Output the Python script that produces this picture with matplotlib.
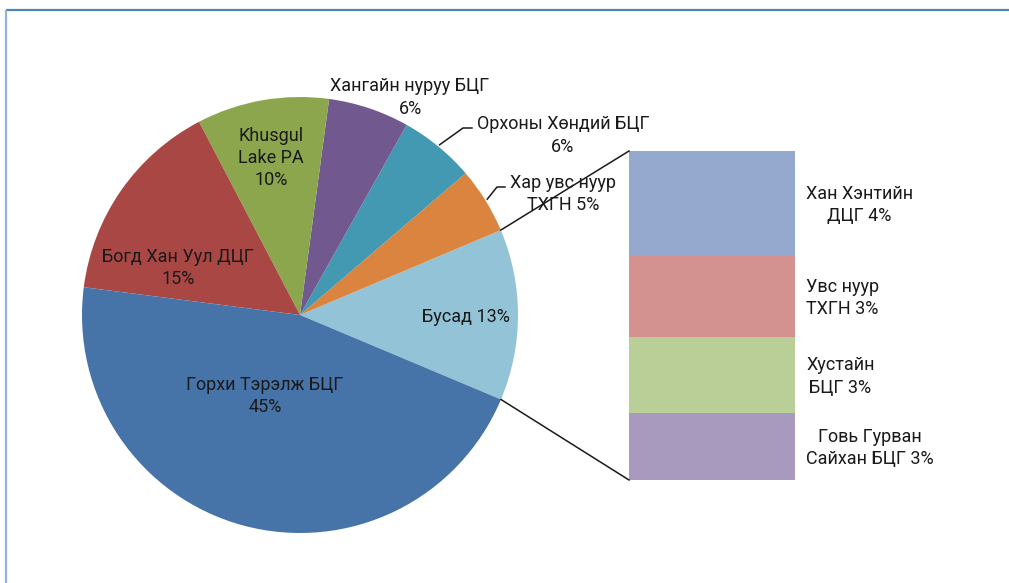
import numpy as np
import matplotlib.pyplot as plt

plt.rcParams['font.family'] = ['Roboto', 'DejaVu Sans']

# pie slices, counter-clockwise starting from the "other" slice
pie_labels = ['Бусад 13%', 'Хар увс нуур\nТХГН 5%', 'Орхоны Хөндий БЦГ\n6%',
              'Хангайн нуруу БЦГ\n6%', 'Khusgul\nLake PA\n10%',
              'Богд Хан Уул ДЦГ\n15%', 'Горхи Тэрэлж БЦГ\n45%']
pie_values = [12.7, 4.9, 5.6, 6.0, 9.8, 15.3, 45.7]
pie_colors = ['#93C3D6', '#DA843F', '#4299B1', '#71598F', '#8BA64D', '#A94744', '#4674A8']

# breakdown of "Бусад", top to bottom
bar_labels = ['Хан Хэнтийн\nДЦГ 4%', 'Увс нуур\nТХГН 3%', 'Хустайн\nБЦГ 3%', 'Говь Гурван\nСайхан БЦГ 3%']
bar_values = [4.05, 3.13, 2.93, 2.59]
bar_colors = ['#95A9CF', '#D39190', '#BACF97', '#A899BE']

# layout (pixels, y measured from top)
W, H = 1009, 583
cx, cy, radius = 300, 315, 218
start_angle = -22.8
bar_left, bar_width, bar_top, bar_total_h = 629, 166, 151, 329
label_pos = [(466, 317), (563, 194), (563, 135.5), (410, 97.5),
             (271, 158), (178, 268), (265, 396)]
leaders = {1: [(497, 187), (505, 187)], 2: [(463, 128), (472, 128)]}


def Y(y):
    return H - y


fig = plt.figure(figsize=(W / 100, H / 100), dpi=100)
ax = fig.add_axes([0, 0, 1, 1])

wedges, _ = ax.pie(pie_values, colors=pie_colors, startangle=start_angle,
                   counterclock=True, center=(cx, Y(cy)), radius=radius,
                   wedgeprops=dict(linewidth=0))

ax.set_xlim(0, W)
ax.set_ylim(0, H)
ax.set_aspect('equal')
ax.axis('off')

fs = 13
for i, (txt, (x, y)) in enumerate(zip(pie_labels, label_pos)):
    ax.text(x, Y(y), txt, ha='center', va='center', fontsize=fs,
            multialignment='center', linespacing=1.3, color='#1a1a1a')

# leader lines
fracs = np.cumsum([0] + pie_values) / sum(pie_values)
for i, pts in leaders.items():
    mid = np.deg2rad(start_angle + 360 * (fracs[i] + fracs[i + 1]) / 2)
    x0 = cx + radius * 1.01 * np.cos(mid)
    y0 = Y(cy) + radius * 1.01 * np.sin(mid)
    xs = [x0] + [p[0] for p in pts]
    ys = [y0] + [Y(p[1]) for p in pts]
    ax.plot(xs, ys, color='#1a1a1a', lw=1.1)

# stacked bar of "Бусад"
unit = bar_total_h / sum(bar_values)
bottom = Y(bar_top)
for val, col, txt in zip(bar_values, bar_colors, bar_labels):
    h = val * unit
    bottom -= h
    ax.bar(bar_left + bar_width / 2, h, width=bar_width, bottom=bottom, color=col, linewidth=0)
    ax.text(bar_left + bar_width + 11, bottom + h / 2 - 1.5, txt, ha='left', va='center',
            fontsize=fs, multialignment='center', linespacing=1.3, color='#1a1a1a')

# connectors from the "Бусад" slice to the bar
a0 = np.deg2rad(start_angle)
a1 = np.deg2rad(start_angle + 360 * fracs[1])
ax.plot([cx + radius * np.cos(a1), bar_left], [Y(cy) + radius * np.sin(a1), Y(bar_top)],
        color='#1a1a1a', lw=1.1)
ax.plot([cx + radius * np.cos(a0), bar_left], [Y(cy) + radius * np.sin(a0), Y(bar_top + bar_total_h)],
        color='#1a1a1a', lw=1.1)

# chart frame
ax.plot([6, W], [Y(10), Y(10)], color='#4A86BC', lw=1.6, solid_capstyle='butt')
ax.plot([6, 6], [Y(10), 0], color='#95B3D7', lw=1.6, solid_capstyle='butt')

fig.savefig('out.png', dpi=100)
